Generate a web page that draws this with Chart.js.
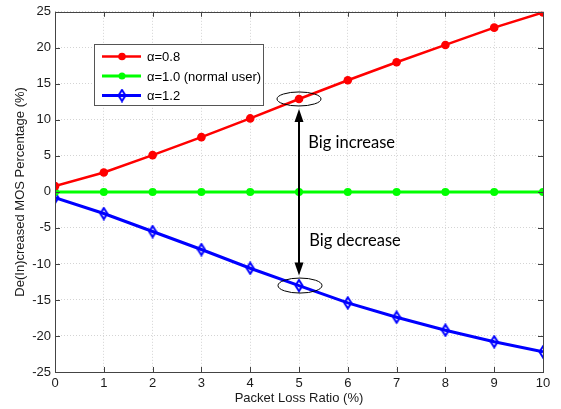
<!DOCTYPE html>
<html>
<head>
<meta charset="utf-8">
<script src="https://cdn.jsdelivr.net/npm/chart.js@4/dist/chart.umd.min.js"></script>
<style>
  html, body { margin: 0; padding: 0; background: #fff; }
</style>
</head>
<body>
<canvas id="myChart" width="561" height="409"></canvas>
<script>
// data
const lossRatio = [0, 1, 2, 3, 4, 5, 6, 7, 8, 9, 10];
const alpha08 = [0.8, 2.7, 5.1, 7.6, 10.2, 12.9, 15.5, 18.0, 20.4, 22.8, 24.9];
const alpha10 = [0, 0, 0, 0, 0, 0, 0, 0, 0, 0, 0];
const alpha12 = [-0.8, -3.0, -5.5, -8.0, -10.6, -13.0, -15.4, -17.4, -19.2, -20.8, -22.2];
const seriesNames = ['α=0.8', 'α=1.0 (normal user)', 'α=1.2'];
const xTicks = [0, 1, 2, 3, 4, 5, 6, 7, 8, 9, 10];
const yTicks = [-25, -20, -15, -10, -5, 0, 5, 10, 15, 20, 25];
const highlightX = 5; // where the arrows point
const labelIncrease = 'Big increase';
const labelDecrease = 'Big decrease';

const FONT = '"Liberation Sans", Arial, sans-serif';

// tall hollow diamond marker for the blue line
function makeDiamond() {
  const c = document.createElement('canvas');
  c.width = 10; c.height = 14;
  const g = c.getContext('2d');
  g.strokeStyle = '#0000ff';
  g.lineWidth = 2;
  g.beginPath();
  g.moveTo(5, 1.5);
  g.lineTo(8.5, 7);
  g.lineTo(5, 12.5);
  g.lineTo(1.5, 7);
  g.closePath();
  g.stroke();
  return c;
}
const diamond = makeDiamond();

function toPoints(ys) {
  return lossRatio.map((x, i) => ({ x: x, y: ys[i] }));
}

const datasets = [
  { label: seriesNames[0], data: toPoints(alpha08), borderColor: '#ff0000', backgroundColor: '#ff0000',
    borderWidth: 2.5, pointRadius: 4.3, pointStyle: 'circle', pointBorderWidth: 0 },
  { label: seriesNames[1], data: toPoints(alpha10), borderColor: '#00ff00', backgroundColor: '#00ff00',
    borderWidth: 3, pointRadius: 4, pointStyle: 'circle', pointBorderWidth: 0 },
  { label: seriesNames[2], data: toPoints(alpha12), borderColor: '#0000ff', backgroundColor: '#0000ff',
    borderWidth: 3, pointStyle: diamond }
];

// matlab style box + inward ticks
const boxPlugin = {
  id: 'box',
  afterDatasetsDraw(chart) {
    const ctx = chart.ctx;
    const a = chart.chartArea;
    const xs = chart.scales.x, ys = chart.scales.y;
    ctx.save();
    ctx.lineWidth = 1;
    ctx.strokeStyle = '#404040';
    ctx.beginPath();
    xTicks.forEach(v => {
      const px = Math.round(xs.getPixelForValue(v)) + 0.5;
      ctx.moveTo(px, a.bottom); ctx.lineTo(px, a.bottom - 5);
      ctx.moveTo(px, a.top); ctx.lineTo(px, a.top + 5);
    });
    yTicks.forEach(v => {
      const py = Math.round(ys.getPixelForValue(v)) + 0.5;
      ctx.moveTo(a.left, py); ctx.lineTo(a.left + 5, py);
      ctx.moveTo(a.right, py); ctx.lineTo(a.right - 5, py);
    });
    ctx.stroke();
    ctx.strokeStyle = '#444';
    ctx.strokeRect(Math.round(a.left) + 0.5, Math.round(a.top) + 0.5,
      Math.round(a.right - a.left), Math.round(a.bottom - a.top));
    ctx.restore();
  }
};

// ellipses, arrows and captions
const notePlugin = {
  id: 'notes',
  afterDatasetsDraw(chart) {
    const ctx = chart.ctx;
    const xs = chart.scales.x, ys = chart.scales.y;
    const px = xs.getPixelForValue(highlightX);
    const yTop = ys.getPixelForValue(alpha08[highlightX]);
    const yBot = ys.getPixelForValue(alpha12[highlightX]);
    const yMid = ys.getPixelForValue(alpha10[highlightX]);
    ctx.save();
    ctx.strokeStyle = '#000';
    ctx.lineWidth = 1;
    ctx.beginPath();
    ctx.ellipse(px, yTop, 22, 7, 0, 0, Math.PI * 2);
    ctx.stroke();
    ctx.beginPath();
    ctx.ellipse(px + 1, yBot, 22, 7.5, 0, 0, Math.PI * 2);
    ctx.stroke();

    function arrow(y0, y1) {
      const dir = y1 > y0 ? 1 : -1;
      ctx.lineWidth = 2;
      ctx.beginPath();
      ctx.moveTo(px, y0);
      ctx.lineTo(px, y1 - dir * 10);
      ctx.stroke();
      ctx.beginPath();
      ctx.moveTo(px, y1);
      ctx.lineTo(px - 4.5, y1 - dir * 13);
      ctx.lineTo(px + 4.5, y1 - dir * 13);
      ctx.closePath();
      ctx.fillStyle = '#000';
      ctx.fill();
    }
    arrow(yMid, yTop + 10);
    arrow(yMid, yBot - 10);

    ctx.fillStyle = '#000';
    ctx.font = '16.5px Lato, "Open Sans", sans-serif';
    ctx.textBaseline = 'middle';
    ctx.textAlign = 'left';
    ctx.fillText(labelIncrease, xs.getPixelForValue(highlightX + 0.19), ys.getPixelForValue(6.8));
    ctx.fillText(labelDecrease, xs.getPixelForValue(highlightX + 0.21), ys.getPixelForValue(-6.8));
    ctx.restore();
  }
};

// legend box in upper left
const legendPlugin = {
  id: 'boxLegend',
  afterDraw(chart) {
    const ctx = chart.ctx;
    const bx = 94.5, by = 44.5, bw = 169, bh = 61;
    ctx.save();
    ctx.fillStyle = '#fff';
    ctx.fillRect(bx, by, bw, bh);
    ctx.strokeStyle = '#555';
    ctx.lineWidth = 1;
    ctx.strokeRect(bx, by, bw, bh);
    const rows = [56.5, 76, 95.5];
    ctx.font = '13px ' + FONT;
    ctx.textBaseline = 'middle';
    datasets.forEach((ds, i) => {
      const y = rows[i];
      ctx.strokeStyle = ds.borderColor;
      ctx.lineWidth = ds.borderWidth;
      ctx.beginPath();
      ctx.moveTo(102, y); ctx.lineTo(141, y);
      ctx.stroke();
      if (ds.pointStyle === diamond) {
        ctx.drawImage(diamond, 122 - 5, y - 7);
      } else {
        ctx.fillStyle = ds.backgroundColor;
        ctx.beginPath();
        ctx.arc(122, y, ds.pointRadius - 0.5, 0, Math.PI * 2);
        ctx.fill();
      }
      ctx.fillStyle = '#000';
      ctx.fillText(ds.label, 147, y + 1);
    });
    ctx.restore();
  }
};

const ctx = document.getElementById('myChart').getContext('2d');
const chart = new Chart(ctx, {
  type: 'line',
  data: { datasets: datasets },
  options: {
    responsive: false,
    animation: false,
    layout: { padding: { top: 10, right: 18, left: 0, bottom: 0 } },
    plugins: {
      legend: { display: false },
      tooltip: { enabled: false }
    },
    elements: { line: { tension: 0 } },
    scales: {
      x: {
        type: 'linear',
        min: 0, max: 10,
        afterFit(s) { s.height = 37; },
        afterBuildTicks(s) { s.ticks = xTicks.map(v => ({ value: v })); },
        grid: { color: '#d4d4d4', drawTicks: false },
        border: { display: false, dash: [1, 2] },
        ticks: { color: '#1a1a1a', font: { family: FONT, size: 13 }, padding: 4 },
        title: { display: true, text: 'Packet Loss Ratio (%)', color: '#1a1a1a',
                 font: { family: FONT, size: 13 }, padding: { top: 0, bottom: 3 } }
      },
      y: {
        min: -25, max: 25,
        afterFit(s) { s.width = 55; },
        afterBuildTicks(s) { s.ticks = yTicks.map(v => ({ value: v })); },
        grid: { color: '#d4d4d4', drawTicks: false },
        border: { display: false, dash: [1, 2] },
        ticks: { color: '#1a1a1a', font: { family: FONT, size: 13 }, padding: 4 },
        title: { display: true, text: 'De(In)creased MOS Percentage (%)', color: '#1a1a1a',
                 font: { family: FONT, size: 13 }, padding: { top: 13, bottom: 0 } }
      }
    }
  },
  plugins: [boxPlugin, notePlugin, legendPlugin]
});
</script>
</body>
</html>
